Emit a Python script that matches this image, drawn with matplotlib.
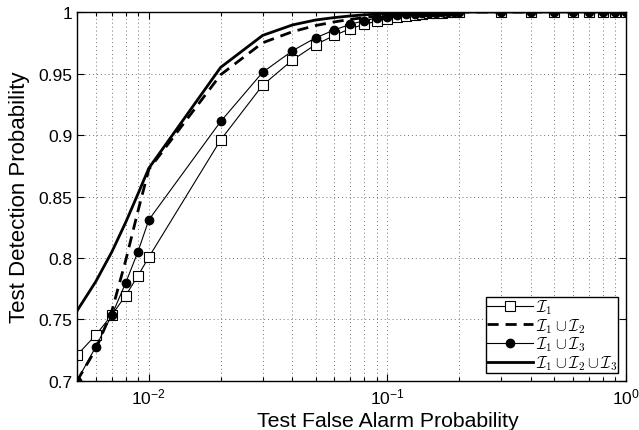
import matplotlib
matplotlib.use("Agg")
import matplotlib.pyplot as plt
from matplotlib.ticker import FixedLocator, FuncFormatter, NullFormatter
from matplotlib.font_manager import FontProperties

# False alarm probabilities (x)
pfa = [0.005, 0.006, 0.007, 0.008, 0.009,
       0.01, 0.02, 0.03, 0.04, 0.05, 0.06, 0.07, 0.08, 0.09, 0.10,
       0.11, 0.12, 0.13, 0.14, 0.15, 0.16, 0.17, 0.18, 0.19, 0.20,
       0.3, 0.4, 0.5, 0.6, 0.7, 0.8, 0.9, 1.0]

# Detection probabilities
pd_i1 = [0.721, 0.7375, 0.7537, 0.7695, 0.7855,
         0.8007, 0.896, 0.9405, 0.961, 0.9735, 0.981, 0.9865, 0.990, 0.9925, 0.9945,
         0.996, 0.997, 0.9978, 0.9984, 0.9988, 0.9992, 0.9995, 0.9997, 0.9998, 0.9999,
         1, 1, 1, 1, 1, 1, 1, 1]
pd_i12 = [0.700, 0.726, 0.757, 0.798, 0.838,
          0.872, 0.949, 0.975, 0.984, 0.989, 0.992, 0.994, 0.9955, 0.9966, 0.9975,
          0.998, 0.9985, 0.9989, 0.9992, 0.9994, 0.9996, 0.9997, 0.9998, 0.9999, 1.0,
          1, 1, 1, 1, 1, 1, 1, 1]
pd_i13 = [0.700, 0.728, 0.7537, 0.7798, 0.805,
          0.831, 0.911, 0.951, 0.9685, 0.979, 0.9855, 0.990, 0.993, 0.995, 0.9963,
          0.9973, 0.998, 0.9986, 0.999, 0.9993, 0.9995, 0.9997, 0.9998, 0.9999, 1.0,
          1, 1, 1, 1, 1, 1, 1, 1]
pd_i123 = [0.757, 0.781, 0.805, 0.829, 0.852,
           0.873, 0.955, 0.981, 0.9895, 0.9935, 0.9955, 0.9968, 0.9977, 0.9983, 0.9988,
           0.9991, 0.9993, 0.9995, 0.9996, 0.9997, 0.9998, 0.9999, 0.9999, 1.0, 1.0,
           1, 1, 1, 1, 1, 1, 1, 1]

labels = [r'$\mathcal{I}_1$', r'$\mathcal{I}_1\cup\mathcal{I}_2$',
          r'$\mathcal{I}_1\cup\mathcal{I}_3$', r'$\mathcal{I}_1\cup\mathcal{I}_2\cup\mathcal{I}_3$']

xmajor = [0.01, 0.1, 1.0]
xmajor_labels = ['-2', '-1', '0']
yticks = [0.7, 0.75, 0.8, 0.85, 0.9, 0.95, 1.0]
ytick_labels = ['0.7', '0.75', '0.8', '0.85', '0.9', '0.95', '1']

plt.rcParams['font.family'] = ['Liberation Sans', 'DejaVu Sans']

fig = plt.figure(figsize=(6.39, 4.31), dpi=100)
ax = fig.add_axes([0.1205, 0.1137, 0.8592, 0.8561])

ax.plot(pfa, pd_i1, '-', color='black', lw=0.8, marker='s', ms=7,
        mfc='white', mec='black', mew=0.8, label=labels[0])
ax.plot(pfa, pd_i12, '--', color='black', lw=2.0, dashes=(4, 2.5), label=labels[1])
ax.plot(pfa, pd_i13, '-', color='black', lw=0.8, marker='o', ms=6,
        mfc='black', mec='black', label=labels[2])
ax.plot(pfa, pd_i123, '-', color='black', lw=2.0, label=labels[3])

ax.set_xscale('log')
ax.set_xlim(0.005, 1.0)
ax.set_ylim(0.7, 1.0)

ax.xaxis.set_major_locator(FixedLocator(xmajor))
ax.xaxis.set_major_formatter(FuncFormatter(
    lambda v, p: r'$\mathregular{10^{%s}}$' % xmajor_labels[xmajor.index(min(xmajor, key=lambda m: abs(m - v)))]))
minor = [k * 10.0 ** e for e in (-3, -2, -1) for k in range(2, 10) if 0.005 <= k * 10.0 ** e <= 1.0]
ax.xaxis.set_minor_locator(FixedLocator(minor))
ax.xaxis.set_minor_formatter(NullFormatter())

ax.set_yticks(yticks)
ax.set_yticklabels(ytick_labels)

ax.tick_params(which='both', direction='in', top=True, right=True, labelsize=12.5, width=0.8)
ax.tick_params(which='major', length=5)
ax.tick_params(which='minor', length=3)
ax.tick_params(axis='x', pad=4)

ax.grid(True, which='major', axis='both', linestyle=(0, (1, 3)), color='0.45', lw=0.7)
ax.grid(True, which='minor', axis='x', linestyle=(0, (1, 3)), color='0.45', lw=0.7)
for s in ax.spines.values():
    s.set_linewidth(1.0)

ax.set_xlabel('Test False Alarm Probability', fontsize=15.3, labelpad=0)
ax.xaxis.set_label_coords(0.566, -0.08)
ax.set_ylabel('Test Detection Probability', fontsize=16, labelpad=6)

leg = ax.legend(loc='lower right', prop=FontProperties(size=11.5, math_fontfamily='cm'),
                frameon=True, fancybox=False, edgecolor='black', framealpha=1,
                borderpad=0.05, labelspacing=0.0, handlelength=2.9, handletextpad=0.15,
                borderaxespad=0.5)
leg.get_frame().set_linewidth(1.0)

fig.savefig('out.png', dpi=100)
